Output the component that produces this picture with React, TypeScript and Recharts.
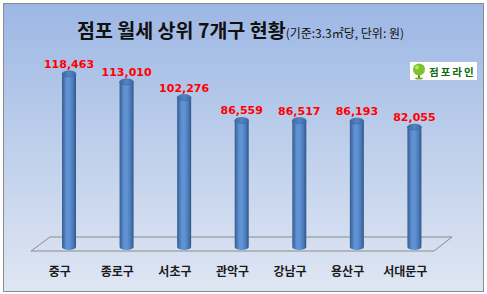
import { Bar, BarChart, LabelList, XAxis, YAxis } from "recharts";

const districts = ["중구", "종로구", "서초구", "관악구", "강남구", "용산구", "서대문구"];
const rents = [118463, 113010, 102276, 86559, 86517, 86193, 82055];

const data = districts.map((name, i) => ({ name, value: rents[i] }));

const KR = '"Noto Sans CJK KR", "Noto Sans", sans-serif';

function Cylinder(props: any) {
	const { x, y, width, height } = props;
	const rx = width / 2;
	const ry = 3;
	const cx = x + rx;
	return (
		<g>
			<path
				d={`M${x},${y} L${x},${y + height} A${rx},${ry} 0 0 0 ${x + width},${y + height} L${x + width},${y} Z`}
				fill="url(#cyl)"
			/>
			<ellipse cx={cx} cy={y} rx={rx} ry={ry} fill="url(#cylTop)" stroke="#3e6aa3" strokeWidth={0.6} />
		</g>
	);
}

function DistrictTick(props: any) {
	const { x, y, payload } = props;
	return (
		<text
			x={x - 9}
			y={y}
			dy={29}
			textAnchor="middle"
			fill="#1a1a1a"
			fontFamily={KR}
			fontWeight={700}
			fontSize={12}
		>
			{payload.value}
		</text>
	);
}

export default function App() {
	return (
		<div
			style={{
				position: "absolute",
				left: 0,
				top: 0,
				width: 487,
				height: 294,
				background: "#fff",
			}}
		>
			<div
				style={{
					position: "absolute",
					left: 3,
					top: 3,
					width: 479,
					height: 287,
					border: "1px solid #8c8c8c",
					background: "linear-gradient(to bottom, #9db7e4 0%, #c2d2ec 55%, #dfe6f3 100%)",
				}}
			/>
			{/* floor */}
			<svg width={487} height={294} style={{ position: "absolute", left: 0, top: 0 }}>
				<polygon points="31,251 50,237 452,237 434,251" fill="none" stroke="#8a8a8a" strokeWidth={1} />
			</svg>
			<div style={{ position: "absolute", left: 0, top: 0 }}>
				<BarChart width={487} height={294} data={data} margin={{ top: 57, right: 44, bottom: 17, left: 40 }}>
					<defs>
						<linearGradient id="cyl" x1="0" y1="0" x2="1" y2="0">
							<stop offset="0%" stopColor="#375c8e" />
							<stop offset="30%" stopColor="#5d8fd0" />
							<stop offset="50%" stopColor="#6295d5" />
							<stop offset="80%" stopColor="#4979b8" />
							<stop offset="100%" stopColor="#315585" />
						</linearGradient>
						<linearGradient id="cylTop" x1="0" y1="0" x2="1" y2="0">
							<stop offset="0%" stopColor="#3d679f" />
							<stop offset="50%" stopColor="#5384c2" />
							<stop offset="100%" stopColor="#3d679f" />
						</linearGradient>
					</defs>
					<XAxis
						dataKey="name"
						axisLine={false}
						tickLine={false}
						tickSize={0}
						tickMargin={0}
						height={30}
						interval={0}
						tick={<DistrictTick />}
					/>
					<YAxis hide domain={[0, 130000]} />
					<Bar dataKey="value" barSize={14} shape={<Cylinder />} isAnimationActive={false}>
						<LabelList
							dataKey="value"
							position="top"
							offset={6}
							formatter={(v: any) => Number(v).toLocaleString("en-US")}
							fill="#ff0000"
							fontFamily='"DejaVu Sans", sans-serif'
							fontWeight={700}
							fontSize={11}
						/>
					</Bar>
				</BarChart>
			</div>
			<div
				style={{
					position: "absolute",
					left: 77,
					top: 15,
					display: "flex",
					alignItems: "baseline",
					whiteSpace: "nowrap",
					fontFamily: KR,
					color: "#111",
				}}
			>
				<span style={{ fontSize: 19.5, fontWeight: 700 }}>점포 월세 상위 7개구 현황</span>
				<span style={{ fontSize: 12 }}>(기준:3.3㎡당, 단위: 원)</span>
			</div>
			{/* logo */}
			<div
				style={{
					position: "absolute",
					left: 410,
					top: 62,
					width: 67,
					height: 18,
					background: "#fff",
					display: "flex",
					alignItems: "center",
				}}
			>
				<svg width={18} height={18}>
					<rect x={8} y={11} width={2} height={5} fill="#5a8a1a" />
					<ellipse cx={9} cy={16.5} rx={4} ry={1} fill="#7aa83a" />
					<circle cx={9} cy={7.5} r={6} fill="#7cc22a" />
					<circle cx={7} cy={5.5} r={2} fill="#b6e27a" />
				</svg>
				<span
					style={{
						fontFamily: KR,
						fontWeight: 700,
						fontSize: 10.5,
						color: "#0d6b12",
						letterSpacing: 2,
						marginLeft: 1,
					}}
				>
					점포라인
				</span>
			</div>
		</div>
	);
}
